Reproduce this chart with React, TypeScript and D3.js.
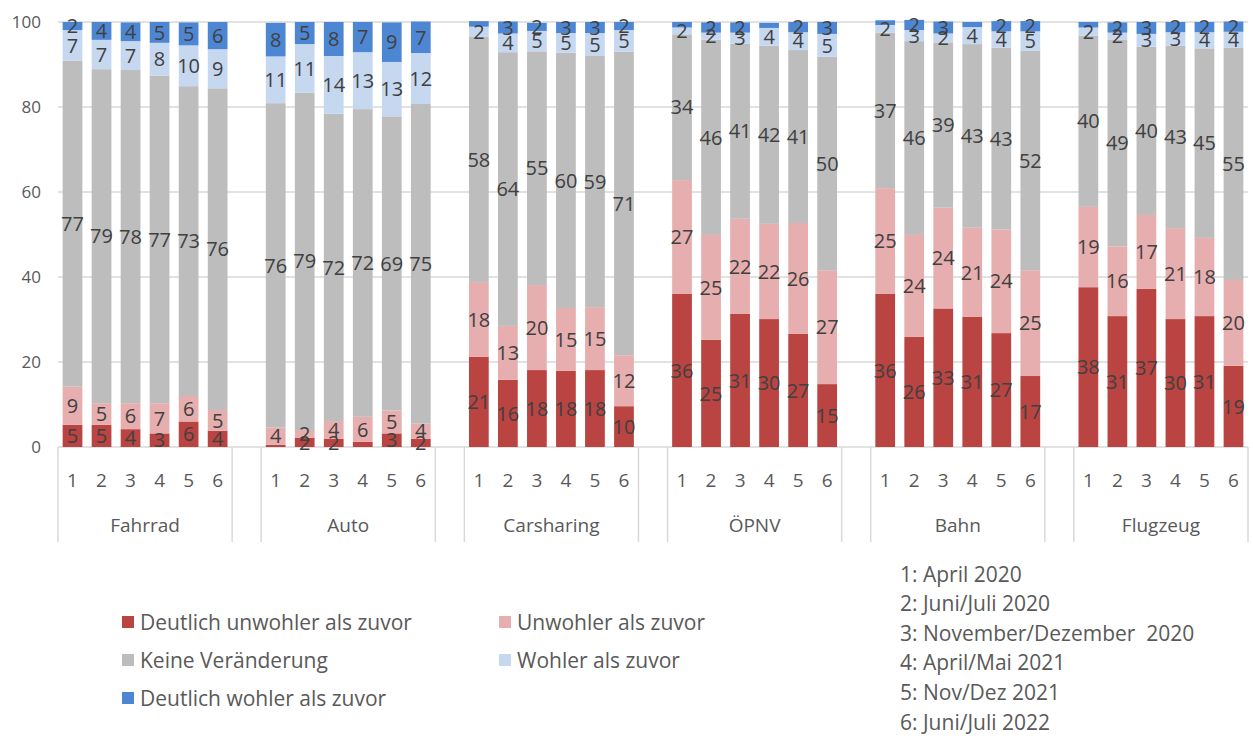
import React from 'react';
import { scaleBand, scaleLinear } from 'd3';

const groups = ['Fahrrad', 'Auto', 'Carsharing', 'ÖPNV', 'Bahn', 'Flugzeug'];
const periods = ['1', '2', '3', '4', '5', '6'];
const periodNames = [
  '1: April 2020',
  '2: Juni/Juli 2020',
  '3: November/Dezember  2020',
  '4: April/Mai 2021',
  '5: Nov/Dez 2021',
  '6: Juni/Juli 2022',
];
const seriesNames = [
  'Deutlich unwohler als zuvor',
  'Unwohler als zuvor',
  'Keine Veränderung',
  'Wohler als zuvor',
  'Deutlich wohler als zuvor',
];
const colors = ['#b94442', '#e6aeae', '#bdbdbd', '#c6d8f0', '#4d87d4'];
const yTicks = [0, 20, 40, 60, 80, 100];

// values per group, periods 1..6
const deutlichUnwohler = [
  5.2, 5.2, 4.2, 3.2, 6.0, 3.8,
  0.5, 2.2, 1.9, 1.2, 3.2, 1.9,
  21.2, 15.8, 18.1, 17.9, 18.1, 9.6,
  36.0, 25.2, 31.3, 30.1, 26.6, 14.8,
  36.0, 25.9, 32.6, 30.6, 26.8, 16.7,
  37.6, 30.8, 37.2, 30.1, 30.8, 19.1,
];
const unwohler = [
  9.0, 5.1, 6.1, 7.1, 6.0, 4.9,
  4.1, 1.8, 4.2, 5.9, 5.4, 3.6,
  17.6, 12.7, 20.0, 14.8, 14.8, 12.0,
  26.8, 24.7, 22.4, 22.4, 26.1, 26.8,
  24.9, 24.0, 23.7, 21.0, 24.4, 24.9,
  18.9, 16.4, 17.4, 21.4, 18.4, 20.2,
];
const keineVeraenderung = [
  76.7, 78.6, 78.4, 77.1, 72.9, 75.7,
  76.3, 79.4, 72.3, 72.4, 69.2, 75.2,
  57.7, 64.4, 55.0, 60.1, 59.1, 71.4,
  34.3, 45.9, 41.2, 41.9, 40.7, 50.2,
  36.6, 45.6, 38.9, 43.2, 42.8, 51.6,
  40.3, 48.7, 39.6, 42.9, 44.6, 54.6,
];
const wohler = [
  7.2, 6.9, 6.8, 7.7, 9.6, 9.2,
  11.0, 11.4, 13.6, 13.4, 12.8, 12.0,
  2.4, 4.4, 4.8, 4.6, 5.4, 5.1,
  1.6, 1.7, 2.6, 4.2, 4.2, 5.4,
  1.8, 2.6, 2.1, 4.0, 3.8, 4.6,
  1.9, 1.6, 3.0, 3.2, 3.8, 3.8,
];
const deutlichWohler = [
  1.9, 4.2, 4.4, 4.9, 5.4, 6.4,
  7.9, 5.2, 8.0, 7.1, 9.3, 7.4,
  1.3, 2.8, 1.9, 2.6, 2.6, 1.9,
  1.3, 2.4, 2.4, 1.2, 2.4, 2.8,
  1.1, 2.4, 2.8, 1.2, 2.4, 2.4,
  1.3, 2.4, 2.8, 2.4, 2.4, 2.4,
];
const series = [deutlichUnwohler, unwohler, keineVeraenderung, wohler, deutlichWohler];

const W = 1253;
const H = 736;
const left = 58;
const right = 1248;
const top = 22;
const bottom = 447;
const font = '"Open Sans", "Noto Sans", sans-serif';

// slot list: 6 bars per group, one empty slot between groups
const slots: string[] = [];
groups.forEach((g, gi) => {
  periods.forEach((p) => slots.push(`${g}|${p}`));
  if (gi < groups.length - 1) slots.push(`gap|${gi}`);
});

export default function App() {
  const x = scaleBand().domain(slots).range([left, right]).paddingInner(0.32).paddingOuter(0.16);
  const step = x.step();
  const y = scaleLinear().domain([0, 100]).range([bottom, top]);
  const slotLeft = (key: string) => x(key)! - (step - x.bandwidth()) / 2;

  const bars: JSX.Element[] = [];
  const labels: JSX.Element[] = [];
  groups.forEach((g, gi) => {
    periods.forEach((p, pi) => {
      const idx = gi * 6 + pi;
      const key = `${g}|${p}`;
      let acc = 0;
      series.forEach((s, si) => {
        const v = s[idx];
        const y0 = y(acc);
        const y1 = y(acc + v);
        acc += v;
        bars.push(
          <rect key={`b${si}-${idx}`} x={x(key)} y={y1} width={x.bandwidth()} height={y0 - y1} fill={colors[si]} />
        );
        if (v >= 1.5) {
          labels.push(
            <text key={`l${si}-${idx}`} x={x(key)! + x.bandwidth() / 2} y={(y0 + y1) / 2} dy="0.36em"
              textAnchor="middle" fontSize={20} fill="#404040">{Math.round(v)}</text>
          );
        }
      });
    });
  });

  const sepX: number[] = [];
  groups.forEach((g) => {
    const l = slotLeft(`${g}|1`);
    sepX.push(l, l + step * 6);
  });

  return (
    <div style={{ position: 'absolute', left: 0, top: 0 }}>
      <svg width={W} height={H} style={{ display: 'block', fontFamily: font }}>
        <rect width={W} height={H} fill="#fff" />
        {yTicks.map((t) => (
          <g key={t}>
            <line x1={left} x2={right} y1={y(t)} y2={y(t)} stroke="#d9d9d9" strokeWidth={1.3} />
            <text x={41} y={y(t)} dy="0.36em" textAnchor="end" fontSize={17} fill="#595959">{t}</text>
          </g>
        ))}
        {bars}
        {labels}
        {sepX.map((sx, i) => (
          <line key={i} x1={sx} x2={sx} y1={bottom} y2={542} stroke="#d9d9d9" strokeWidth={1.5} />
        ))}
        {groups.map((g) => (
          <g key={g}>
            {periods.map((p) => (
              <text key={p} x={x(`${g}|${p}`)! + x.bandwidth() / 2} y={480} dy="0.36em" textAnchor="middle"
                fontSize={19} fill="#595959">{p}</text>
            ))}
            <text x={slotLeft(`${g}|1`) + step * 3} y={525} dy="0.36em" textAnchor="middle" fontSize={19}
              fill="#595959">{g}</text>
          </g>
        ))}
        {seriesNames.map((n, i) => {
          const lx = i % 2 === 0 ? 122 : 499;
          const ly = 622 + Math.floor(i / 2) * 38;
          return (
            <g key={n}>
              <rect x={lx} y={ly - 6} width={12} height={12} fill={colors[i]} />
              <text x={lx + 18} y={ly} dy="0.36em" fontSize={21} fill="#595959">{n}</text>
            </g>
          );
        })}
        {periodNames.map((n, i) => (
          <text key={n} x={900} y={574 + i * 29.6} dy="0.36em" fontSize={21} fill="#595959"
            style={{ whiteSpace: 'pre' }}>{n}</text>
        ))}
      </svg>
    </div>
  );
}
